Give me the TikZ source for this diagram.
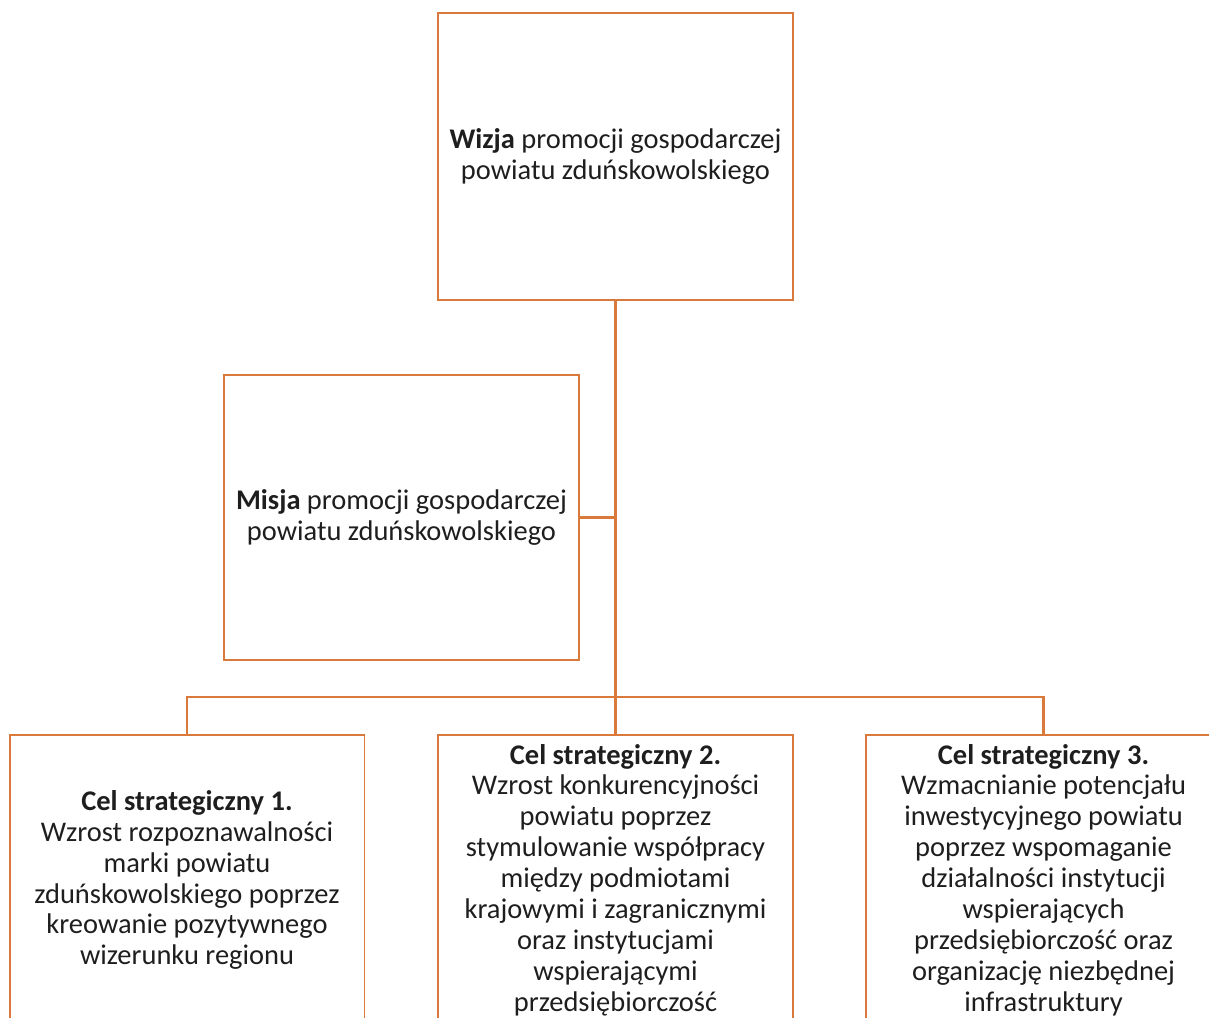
\documentclass[tikz,border=0pt]{standalone}
\usepackage{fontspec}
\setmainfont{Carlito}
\usepackage{xcolor}
\usetikzlibrary{positioning,calc}
\definecolor{ramka}{RGB}{218,121,60}
\definecolor{tekst}{RGB}{30,30,30}

\begin{document}
\begin{tikzpicture}[x=0.02cm, y=-0.02cm,
    box/.style={draw=ramka, line width=1.1pt, minimum width=7.1cm, minimum height=#1,
                align=center, text=tekst, inner sep=2pt,
                font=\fontsize{16.2}{17.6}\selectfont},
    box/.default=5.74cm,
    celbox/.style={box=5.8cm},
    laczenie/.style={draw=ramka, line width=1.5pt},
]
\useasboundingbox (0,0) rectangle (1209,1017);
\clip (0,0) rectangle (1209,1017);

% --- Wizja ---
\node[box] (wizja) at (615.5,156.5) {\textbf{Wizja} promocji gospodarczej\\powiatu zduńskowolskiego};

% --- Misja ---
\node[box=5.7cm] (misja) at (401.5,517.5) {\textbf{Misja} promocji gospodarczej\\powiatu zduńskowolskiego};

% --- Cele strategiczne ---
\node[celbox] (cel1) at (187,880) {\textbf{Cel strategiczny 1.}\\Wzrost rozpoznawalności\\marki powiatu\\zduńskowolskiego poprzez\\kreowanie pozytywnego\\wizerunku regionu};
\node[celbox] (cel2) at (615.5,880) {\textbf{Cel strategiczny 2.}\\Wzrost konkurencyjności\\powiatu poprzez\\stymulowanie współpracy\\między podmiotami\\krajowymi i zagranicznymi\\oraz instytucjami\\wspierającymi\\przedsiębiorczość};
\node[celbox] (cel3) at (1043.5,880) {\textbf{Cel strategiczny 3.}\\Wzmacnianie potencjału\\inwestycyjnego powiatu\\poprzez wspomaganie\\działalności instytucji\\wspierających\\przedsiębiorczość oraz\\organizację niezbędnej\\infrastruktury};

% --- Linie ---
\coordinate (bus) at (615.5,697);
\draw[laczenie] (cel1.north) |- (bus) -| (cel3.north);
\draw[laczenie] (wizja.south) -- (bus);
\draw[laczenie] (bus) -- (cel2.north);
\draw[laczenie] (misja.east) -- (misja.east -| wizja.south);

\end{tikzpicture}
\end{document}
